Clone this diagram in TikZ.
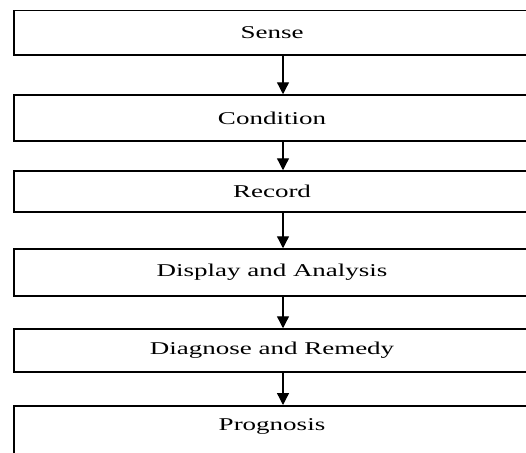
\documentclass[tikz,border=0pt]{standalone}
\usepackage{fontspec}
\setmainfont{Liberation Serif}[FakeStretch=1.5]
\usetikzlibrary{arrows.meta}
\begin{document}
\begin{tikzpicture}[x=1pt,y=-1pt,
  stage/.style={draw=black, line width=1.5pt, fill=white, minimum width=516pt,
    inner sep=0pt, font=\fontsize{18pt}{20pt}\selectfont, text=black},
  flow/.style={draw=black, line width=1.3pt, -{Triangle[length=12pt,width=12pt]}}]
  \useasboundingbox (0,0) rectangle (526,452);
  \clip (0,0) rectangle (526,452);
  \fill[white] (0,0) rectangle (526,452);

  % process stages, top to bottom
  \node[stage, minimum height=44.5pt] (b1) at (272,32.75) {Sense};
  \node[stage, minimum height=46pt]   (b2) at (272,118)   {Condition};
  \node[stage, minimum height=41pt]   (b3) at (272,191.5) {Record};
  \node[stage, minimum height=47pt]   (b4) at (272,272.5) {Display and Analysis};
  \node[stage, minimum height=43pt]   (b5) at (272,350.5) {Diagnose and Remedy};
  \node[stage, anchor=north, text height=12pt, text depth=60pt, inner ysep=13pt]
    (b6) at (272,405) {Prognosis};

  % connectors run slightly right of the box centres
  \coordinate (ax) at (283,0);
  \draw[flow] (b1.south -| ax) -- (b2.north -| ax);
  \draw[flow] (b2.south -| ax) -- (b3.north -| ax);
  \draw[flow] (b3.south -| ax) -- (b4.north -| ax);
  \draw[flow] (b4.south -| ax) -- (b5.north -| ax);
  \draw[flow] (b5.south -| ax) -- (b6.north -| ax);
\end{tikzpicture}
\end{document}
